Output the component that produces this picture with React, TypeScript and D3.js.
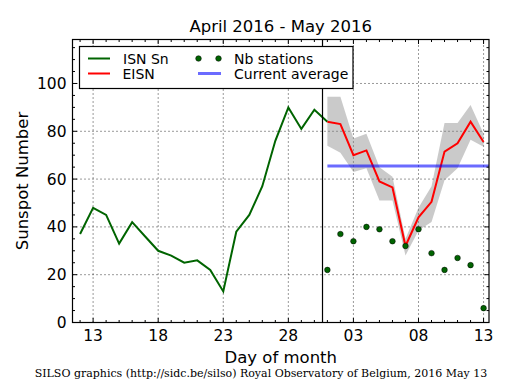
import React, { useEffect, useRef } from 'react';
import * as d3 from 'd3';

// ISN Sn daily values, April 12 .. May 1
const isnDays = d3.range(12, 31).map(d => [3, d]).concat([[4, 1]]);
const isnValues = [37, 48, 45, 33, 42, 36, 30, 28, 25, 26, 22, 13, 38, 45, 57, 76, 90, 81, 89, 84];

// EISN, May 1 .. May 13
const eisnDays = d3.range(1, 14);
const eisnValues = [84, 83, 70, 72, 59, 56.5, 32, 44, 50.5, 71.5, 75, 84, 75.5];
const eisnUpper = [94.5, 94.5, 77, 79, 65, 61, 35, 48, 57, 83.5, 83.5, 91, 79];
const eisnLower = [74, 71, 63, 64.5, 51, 51, 28, 38.5, 42, 59.5, 64.5, 76.5, 73.5];
const stations = [22, 37, 34, 40, 39, 34, 32, 39, 29, 22, 27, 24, 6];
const currentAverage = 65.5;

const yTicks = [0, 20, 40, 60, 80, 100];

const day = (m: number, d: number, h = 0) => new Date(Date.UTC(2016, m, d, h));

function App() {
  const ref = useRef<SVGSVGElement>(null);

  useEffect(() => {
    const width = 515;
    const height = 390;
    const margin = { top: 39.5, right: 26, bottom: 67.5, left: 72.5 };

    const svg = d3.select(ref.current);
    svg.selectAll('*').remove();

    const x = d3.scaleUtc()
      .domain([day(3, 11, 10), day(4, 13, 10)])
      .range([margin.left, width - margin.right]);
    const y = d3.scaleLinear()
      .domain([0, 118.4])
      .range([height - margin.bottom, margin.top]);

    const x0 = margin.left, x1 = width - margin.right;
    const y0 = height - margin.bottom, y1 = margin.top;

    const font = 'DejaVu Sans, sans-serif';

    const majorDays = [day(3, 13), day(3, 18), day(3, 23), day(3, 28), day(4, 3), day(4, 8), day(4, 13)];
    const allDays = d3.utcDay.range(day(3, 12), day(4, 14));

    // grid
    const grid = svg.append('g').attr('stroke', '#000').attr('stroke-width', 0.8).attr('stroke-dasharray', '1,3');
    majorDays.forEach(d => {
      grid.append('line').attr('x1', x(d)).attr('x2', x(d)).attr('y1', y0).attr('y2', y1);
    });
    yTicks.slice(1).forEach(v => {
      grid.append('line').attr('x1', x0).attr('x2', x1).attr('y1', y(v)).attr('y2', y(v));
    });

    // uncertainty band
    const bandData = eisnDays.map((d, i) => ({ date: day(4, d), lo: eisnLower[i], hi: eisnUpper[i] }));
    svg.append('path')
      .datum(bandData)
      .attr('fill', 'rgba(128,128,128,0.42)')
      .attr('d', d3.area<any>().x(d => x(d.date)).y0(d => y(d.lo)).y1(d => y(d.hi)));

    // ISN line
    const isnData = isnDays.map((md, i) => ({ date: day(md[0], md[1]), v: isnValues[i] }));
    svg.append('path')
      .datum(isnData)
      .attr('fill', 'none')
      .attr('stroke', '#006400')
      .attr('stroke-width', 2)
      .attr('d', d3.line<any>().x(d => x(d.date)).y(d => y(d.v)));

    // EISN line
    const eisnData = eisnDays.map((d, i) => ({ date: day(4, d), v: eisnValues[i] }));
    svg.append('path')
      .datum(eisnData)
      .attr('fill', 'none')
      .attr('stroke', '#ff0000')
      .attr('stroke-width', 2)
      .attr('d', d3.line<any>().x(d => x(d.date)).y(d => y(d.v)));

    // current average
    svg.append('line')
      .attr('x1', x(day(4, 1))).attr('x2', x1)
      .attr('y1', y(currentAverage)).attr('y2', y(currentAverage))
      .attr('stroke', 'rgba(0,0,255,0.58)')
      .attr('stroke-width', 3);

    // stations
    svg.append('g')
      .selectAll('circle')
      .data(stations)
      .enter()
      .append('circle')
      .attr('cx', (d, i) => x(day(4, eisnDays[i])))
      .attr('cy', d => y(d))
      .attr('r', 2.8)
      .attr('fill', '#006400')
      .attr('stroke', '#000')
      .attr('stroke-width', 0.5);

    // separator
    svg.append('line')
      .attr('x1', x(day(3, 30, 15.5))).attr('x2', x(day(3, 30, 15.5)))
      .attr('y1', y0).attr('y2', y1)
      .attr('stroke', '#000').attr('stroke-width', 1.2);

    // frame and ticks (inward on all sides)
    const ticks = svg.append('g').attr('stroke', '#000').attr('stroke-width', 1);
    allDays.forEach(d => {
      const isMajor = majorDays.some(m => +m === +d);
      const len = isMajor ? 4.5 : 2.5;
      ticks.append('line').attr('x1', x(d)).attr('x2', x(d)).attr('y1', y0).attr('y2', y0 - len);
      ticks.append('line').attr('x1', x(d)).attr('x2', x(d)).attr('y1', y1).attr('y2', y1 + len);
    });
    d3.range(0, 119, 5).forEach(v => {
      const len = v % 20 === 0 ? 4.5 : 2.5;
      ticks.append('line').attr('x1', x0).attr('x2', x0 + len).attr('y1', y(v)).attr('y2', y(v));
      ticks.append('line').attr('x1', x1).attr('x2', x1 - len).attr('y1', y(v)).attr('y2', y(v));
    });
    svg.append('rect')
      .attr('x', x0).attr('y', y1)
      .attr('width', x1 - x0).attr('height', y0 - y1)
      .attr('fill', 'none').attr('stroke', '#000').attr('stroke-width', 1.2);

    // tick labels
    const fmt = d3.utcFormat('%d');
    svg.append('g')
      .selectAll('text')
      .data(majorDays)
      .enter()
      .append('text')
      .attr('x', d => x(d))
      .attr('y', 341)
      .attr('text-anchor', 'middle')
      .attr('font-family', font)
      .attr('font-size', 15.5)
      .text(d => fmt(d));
    svg.append('g')
      .selectAll('text')
      .data(yTicks)
      .enter()
      .append('text')
      .attr('x', 66.5)
      .attr('y', d => y(d))
      .attr('dy', '0.36em')
      .attr('text-anchor', 'end')
      .attr('font-family', font)
      .attr('font-size', 15.5)
      .text(d => d);

    // titles
    svg.append('text')
      .attr('x', (x0 + x1) / 2).attr('y', 32)
      .attr('text-anchor', 'middle')
      .attr('font-family', font).attr('font-size', 16.5)
      .text('April 2016 - May 2016');
    svg.append('text')
      .attr('x', (x0 + x1) / 2).attr('y', 363)
      .attr('text-anchor', 'middle')
      .attr('font-family', font).attr('font-size', 16.5)
      .text('Day of month');
    svg.append('text')
      .attr('transform', `translate(28,${(y0 + y1) / 2}) rotate(-90)`)
      .attr('text-anchor', 'middle')
      .attr('font-family', font).attr('font-size', 16.5)
      .text('Sunspot Number');
    svg.append('text')
      .attr('x', 261).attr('y', 377)
      .attr('text-anchor', 'middle')
      .attr('font-family', 'DejaVu Serif, serif').attr('font-size', 11)
      .text('SILSO graphics (http://sidc.be/silso) Royal Observatory of Belgium, 2016 May 13');

    // legend
    const lg = svg.append('g');
    lg.append('rect')
      .attr('x', 79.5).attr('y', 46.5)
      .attr('width', 273.5).attr('height', 42)
      .attr('fill', '#fff').attr('stroke', '#000').attr('stroke-width', 1.2);
    lg.append('line').attr('x1', 88).attr('x2', 110).attr('y1', 58.5).attr('y2', 58.5)
      .attr('stroke', '#006400').attr('stroke-width', 2);
    lg.append('line').attr('x1', 88).attr('x2', 110).attr('y1', 73.5).attr('y2', 73.5)
      .attr('stroke', '#ff0000').attr('stroke-width', 2);
    [198.5, 218.5].forEach(cx => {
      lg.append('circle').attr('cx', cx).attr('cy', 58.5).attr('r', 2.8)
        .attr('fill', '#006400').attr('stroke', '#000').attr('stroke-width', 0.5);
    });
    lg.append('line').attr('x1', 198).attr('x2', 221).attr('y1', 73.5).attr('y2', 73.5)
      .attr('stroke', 'rgba(0,0,255,0.58)').attr('stroke-width', 3);
    const legendText = [
      { t: 'ISN Sn', x: 123, y: 58.5 },
      { t: 'EISN', x: 122.5, y: 73.5 },
      { t: 'Nb stations', x: 234, y: 58.5 },
      { t: 'Current average', x: 234, y: 73.5 },
    ];
    legendText.forEach(d => {
      lg.append('text').attr('x', d.x).attr('y', d.y).attr('dy', '0.36em')
        .attr('font-family', font).attr('font-size', 14)
        .text(d.t);
    });
  }, []);

  return (
    <svg
      ref={ref}
      width={515}
      height={390}
      style={{ position: 'absolute', left: 0, top: 0, background: '#fff' }}
    />
  );
}

export default App;
